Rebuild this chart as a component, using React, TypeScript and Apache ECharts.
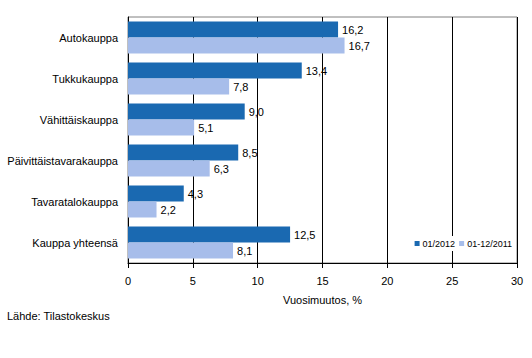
import React, { useEffect, useRef } from "react";
import * as echarts from "echarts";

const categories = [
  "Autokauppa",
  "Tukkukauppa",
  "Vähittäiskauppa",
  "Päivittäistavarakauppa",
  "Tavaratalokauppa",
  "Kauppa yhteensä",
];
const series2012 = [16.2, 13.4, 9.0, 8.5, 4.3, 12.5];
const series2011 = [16.7, 7.8, 5.1, 6.3, 2.2, 8.1];
const seriesNames = ["01/2012", "01-12/2011"];
const xTicks = { min: 0, max: 30, interval: 5 };

const FONT = "Arial, 'Liberation Sans', sans-serif";

export default function App() {
  const ref = useRef<HTMLDivElement>(null);
  useEffect(() => {
    if (!ref.current) return;
    const chart = echarts.init(ref.current, null, { renderer: "svg" });
    const fmt = (p: any) => Number(p.value).toFixed(1).replace(".", ",");
    chart.setOption({
      animation: false,
      backgroundColor: "#ffffff",
      textStyle: { fontFamily: FONT },
      grid: {
        left: 128,
        right: 15,
        top: 17,
        bottom: 95,
        show: true,
        borderColor: "#808080",
        borderWidth: 1,
        containLabel: false,
      },
      legend: {
        data: seriesNames,
        right: 18,
        top: 236,
        icon: "rect",
        itemWidth: 5,
        itemHeight: 5,
        itemGap: 4,
        padding: [3, 2],
        backgroundColor: "#ffffff",
        textStyle: { fontSize: 9, color: "#000", fontFamily: FONT, padding: [0, 0, 0, -2] },
      },
      xAxis: {
        type: "value",
        min: xTicks.min,
        max: xTicks.max,
        interval: xTicks.interval,
        name: "Vuosimuutos, %",
        nameLocation: "middle",
        nameGap: 31,
        nameTextStyle: { fontSize: 11, color: "#000", fontFamily: FONT },
        axisLine: { show: true, lineStyle: { color: "#000", width: 1 } },
        axisTick: { show: true, length: 5, lineStyle: { color: "#000" } },
        axisLabel: { fontSize: 11, color: "#000", margin: 12, fontFamily: FONT },
        splitLine: { show: true, lineStyle: { color: "#000", width: 1 } },
      },
      yAxis: {
        type: "category",
        data: categories,
        inverse: true,
        axisLine: { show: true, lineStyle: { color: "#000", width: 1 } },
        axisTick: { show: false },
        axisLabel: { fontSize: 11, color: "#000", margin: 10, fontFamily: FONT },
        splitLine: { show: false },
      },
      series: [
        {
          name: seriesNames[0],
          type: "bar",
          data: series2012,
          barWidth: 16,
          barGap: "0%",
          itemStyle: { color: "#1a69b1" },
          label: {
            show: true,
            position: "right",
            distance: 4,
            formatter: fmt,
            fontSize: 11,
            color: "#000",
            fontFamily: FONT,
          },
        },
        {
          name: seriesNames[1],
          type: "bar",
          data: series2011,
          barWidth: 16,
          barGap: "0%",
          itemStyle: { color: "#a7bdea" },
          label: {
            show: true,
            position: "right",
            distance: 4,
            formatter: fmt,
            fontSize: 11,
            color: "#000",
            fontFamily: FONT,
          },
        },
      ],
      graphic: [
        {
          type: "text",
          left: 7,
          top: 310,
          style: {
            text: "Lähde: Tilastokeskus",
            fontSize: 11,
            fill: "#000",
            fontFamily: FONT,
          },
        },
      ],
    });
    return () => chart.dispose();
  }, []);
  return (
    <div
      ref={ref}
      style={{ position: "fixed", left: 0, top: 0, width: 532, height: 358 }}
    />
  );
}
